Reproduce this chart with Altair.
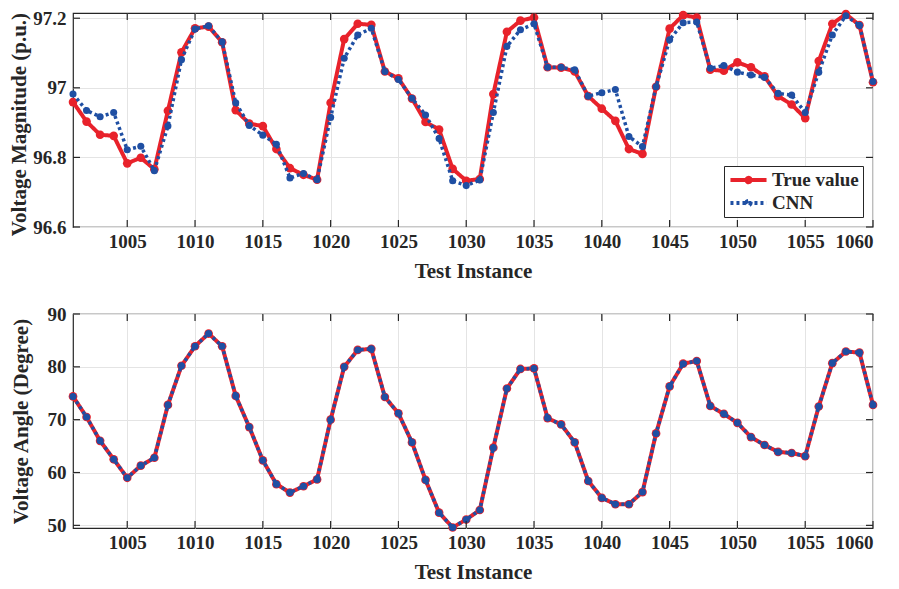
import altair as alt
import pandas as pd

X = list(range(1001, 1061))
X_TICKS = [1005, 1010, 1015, 1020, 1025, 1030, 1035, 1040, 1045, 1050, 1055, 1060]

MAG_TRUE = [96.959, 96.903, 96.865, 96.862, 96.783, 96.799, 96.766, 96.934, 97.102, 97.171,
            97.176, 97.131, 96.936, 96.897, 96.890, 96.824, 96.769, 96.750, 96.736, 96.957,
            97.140, 97.184, 97.181, 97.047, 97.027, 96.969, 96.902, 96.880, 96.767, 96.733,
            96.738, 96.982, 97.161, 97.193, 97.202, 97.059, 97.058, 97.047, 96.976, 96.940,
            96.905, 96.824, 96.810, 97.003, 97.170, 97.209, 97.202, 97.052, 97.049, 97.073,
            97.059, 97.033, 96.976, 96.952, 96.913, 97.077, 97.184, 97.212, 97.180, 97.016]
MAG_CNN = [96.982, 96.935, 96.917, 96.929, 96.822, 96.832, 96.762, 96.890, 97.081, 97.169,
           97.178, 97.132, 96.957, 96.892, 96.864, 96.838, 96.741, 96.754, 96.736, 96.915,
           97.085, 97.152, 97.171, 97.047, 97.024, 96.970, 96.922, 96.854, 96.733, 96.719,
           96.735, 96.929, 97.119, 97.167, 97.184, 97.059, 97.059, 97.052, 96.976, 96.986,
           96.995, 96.860, 96.831, 97.003, 97.138, 97.187, 97.189, 97.056, 97.064, 97.045,
           97.037, 97.030, 96.984, 96.979, 96.929, 97.045, 97.152, 97.207, 97.180, 97.018]
ANG_TRUE = [74.4, 70.5, 66.0, 62.5, 59.0, 61.3, 62.8, 72.8, 80.2, 83.9,
            86.3, 83.9, 74.5, 68.6, 62.3, 57.8, 56.2, 57.4, 58.7, 70.0,
            80.0, 83.2, 83.4, 74.3, 71.2, 65.7, 58.6, 52.4, 49.6, 51.1,
            52.9, 64.7, 75.9, 79.6, 79.7, 70.3, 69.1, 65.7, 58.4, 55.2,
            54.0, 54.0, 56.3, 67.4, 76.3, 80.6, 81.1, 72.6, 71.1, 69.4,
            66.7, 65.2, 63.9, 63.7, 63.1, 72.5, 80.7, 82.9, 82.7, 72.8]
ANG_CNN = [74.4, 70.5, 66.0, 62.5, 59.0, 61.3, 62.8, 72.8, 80.2, 83.9,
           86.3, 83.9, 74.5, 68.6, 62.3, 57.8, 56.2, 57.4, 58.7, 70.0,
           80.0, 83.2, 83.4, 74.3, 71.2, 65.7, 58.6, 52.4, 49.6, 51.1,
           52.9, 64.7, 75.9, 79.6, 79.7, 70.3, 69.1, 65.7, 58.4, 55.2,
           54.0, 54.0, 56.3, 67.4, 76.3, 80.6, 81.1, 72.6, 71.1, 69.4,
           66.7, 65.2, 63.9, 63.7, 63.1, 72.5, 80.7, 82.9, 82.7, 72.8]

SERIES = ["True value", "CNN"]
RED = "#E8222B"
BLUE = "#1F4FA3"
FONT = "Liberation Serif"
W, H = 800, 214
TICK_LEN = 7
LEGEND_SYMBOL = "M-1,0H1M-0.12,0A0.12,0.12,0,1,1,0.12,0A0.12,0.12,0,1,1,-0.12,0Z"


def panel(true_vals, cnn_vals, ydomain, yticks, ytitle, show_legend, title_y=None):
    df = pd.DataFrame({
        "x": X + X,
        "y": true_vals + cnn_vals,
        "series": [SERIES[0]] * len(X) + [SERIES[1]] * len(X),
    })
    xs = alt.Scale(domain=[1001, 1060], nice=False, zero=False)
    ys = alt.Scale(domain=ydomain, nice=False, zero=False)
    xenc = alt.X("x:Q", scale=xs, axis=alt.Axis(values=X_TICKS, title="Test Instance", ticks=False,
                                                  labelPadding=5, titlePadding=9, format="d"))
    yaxis_kw = dict(values=yticks, title=ytitle, ticks=False, labelPadding=7, titlePadding=3,
                    minExtent=39, format="~g")
    if title_y is not None:
        yaxis_kw["titleY"] = title_y
    yenc = alt.Y("y:Q", scale=ys, axis=alt.Axis(**yaxis_kw))
    if show_legend:
        leg = alt.Legend(title=None, orient="bottom-right", offset=10, symbolType=LEGEND_SYMBOL,
                         symbolSize=1300, symbolStrokeWidth=4, strokeColor="#262626",
                         fillColor="white", padding=4, labelFont=FONT, labelFontSize=19,
                         labelFontWeight="bold", labelColor="#262626", rowPadding=3,
                         clipHeight=20, labelOffset=3)
    else:
        leg = None
    col = alt.Color("series:N", scale=alt.Scale(domain=SERIES, range=[RED, BLUE]), legend=leg)
    dash = alt.StrokeDash("series:N", scale=alt.Scale(domain=SERIES, range=[[1, 0], [3, 3]]), legend=leg)

    base = alt.Chart(df).encode(x=xenc, y=yenc)
    red = base.transform_filter(alt.datum.series == SERIES[0])
    blue = base.transform_filter(alt.datum.series == SERIES[1])
    red_line = red.mark_line(strokeWidth=4).encode(color=col, strokeDash=dash)
    red_pts = red.mark_circle(size=75, opacity=1, color=RED)
    blue_line = blue.mark_line(strokeWidth=3.5).encode(color=col, strokeDash=dash)
    blue_pts = blue.mark_circle(size=50, opacity=1, color=BLUE)

    xt = pd.DataFrame({"t": X_TICKS})
    yt = pd.DataFrame({"t": yticks})
    tx = alt.X("t:Q", scale=xs)
    ty = alt.Y("t:Q", scale=ys)
    tick_col = "#262626"
    bt = alt.Chart(xt).mark_rule(color=tick_col, strokeWidth=1.2).encode(
        x=tx, y=alt.value(H), y2=alt.value(H - TICK_LEN))
    tt = alt.Chart(xt).mark_rule(color=tick_col, strokeWidth=1.2).encode(
        x=tx, y=alt.value(0), y2=alt.value(TICK_LEN))
    lt = alt.Chart(yt).mark_rule(color=tick_col, strokeWidth=1.2).encode(
        y=ty, x=alt.value(0), x2=alt.value(TICK_LEN))
    rt = alt.Chart(yt).mark_rule(color=tick_col, strokeWidth=1.2).encode(
        y=ty, x=alt.value(W), x2=alt.value(W - TICK_LEN))

    return alt.layer(red_line, red_pts, blue_line, blue_pts, bt, tt, lt, rt).properties(width=W, height=H)


top = panel(MAG_TRUE, MAG_CNN, [96.6, 97.215], [96.6, 96.8, 97.0, 97.2], "Voltage Magnitude (p.u.)", True,
            title_y=111)
bottom = panel(ANG_TRUE, ANG_CNN, [49.5, 90], [50, 60, 70, 80, 90], "Voltage Angle (Degree)", False)

chart = alt.vconcat(top, bottom, spacing=22).resolve_scale(color="independent", strokeDash="independent").properties(
    padding={"left": 0, "top": -3, "right": 5, "bottom": 5}, background="white"
).configure_view(stroke="#262626", strokeWidth=1.2).configure_axis(
    labelFont=FONT, labelFontSize=19, labelFontWeight="bold", labelColor="#262626",
    titleFont=FONT, titleFontSize=21, titleFontWeight="bold", titleColor="#262626",
    domain=False, gridColor="#e4e4e4", gridWidth=1
)

chart.save("out.html", embed_options={"renderer": "svg", "actions": False})
